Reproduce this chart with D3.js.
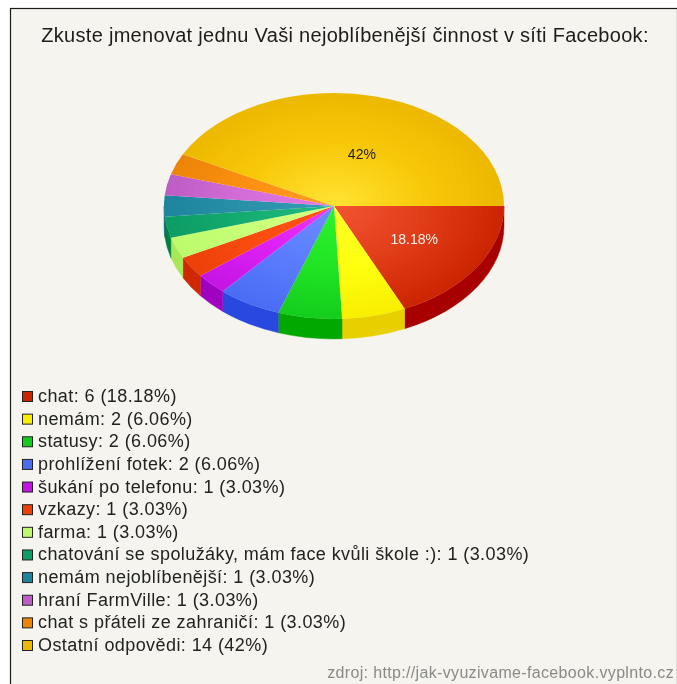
<!DOCTYPE html>
<html><head><meta charset="utf-8">
<script src="https://cdn.jsdelivr.net/npm/d3@7/dist/d3.min.js"></script>
<style>html,body{margin:0;padding:0;background:#fff}svg{display:block;filter:blur(0.45px)}</style>
</head><body><svg id="c" width="677" height="684"></svg>
<script>
const categories=["chat","nemám","statusy","prohlížení fotek","šukání po telefonu","vzkazy","farma","chatování se spolužáky, mám face kvůli škole :)","nemám nejoblíbenější","hraní FarmVille","chat s přáteli ze zahraničí","Ostatní odpovědi"];
const counts=[6,2,2,2,1,1,1,1,1,1,1,14];
const percents=["18.18%","6.06%","6.06%","6.06%","3.03%","3.03%","3.03%","3.03%","3.03%","3.03%","3.03%","42%"];
const topEdge=["#cc2400","#f8ee00","#14cc1c","#4a6cf4","#c414e4","#ec4008","#bcfa6c","#0c9c64","#1c849c","#bc5cc4","#ec8408","#ecb800"];
const topMid=["#e03c18","#ffff10","#20e424","#5a7cfc","#dc20f4","#fc4c10","#c8ff78","#14ac70","#2890a8","#d46cd8","#fc9010","#f8c808"];
const topCenter=["#f45434","#ffff28","#2cf42c","#6c8cff","#f034ff","#ff5418","#d4ff84","#24bc84","#349cb4","#e47ce4","#ff9c24","#ffe434"];
const sides=["#a80000","#e8d000","#00a800","#2848e0","#a000c0","#d02800","#a8e858","#008040","#106880","#9040a0","#c86000","#c89000"];
const labelIdx=[0,11];
const labelRadius=[93,80];
const labelShift=[2,9];
const titleText="Zkuste jmenovat jednu Vaši nejoblíbenější činnost v síti Facebook:";
const sourceText="zdroj: http://jak-vyuzivame-facebook.vyplnto.cz";

const svg=d3.select("#c");
const W=677,H=684,cx=334,cy=206,rx=170,ry=113,depth=20;
svg.append("rect").attr("width",W).attr("height",H).attr("fill","#fff");
svg.append("rect").attr("x",10.5).attr("y",8.5).attr("width",W-10).attr("height",H).attr("fill","#f5f4ee").attr("stroke","#1a1a1a").attr("stroke-width",1.2);
const defs=svg.append("defs");
categories.forEach((c,i)=>{
  const g=defs.append("radialGradient").attr("id","g"+i).attr("gradientUnits","userSpaceOnUse").attr("cx",0).attr("cy",0).attr("r",rx);
  g.append("stop").attr("offset","0").attr("stop-color",topCenter[i]);
  g.append("stop").attr("offset","0.55").attr("stop-color",topMid[i]);
  g.append("stop").attr("offset","1").attr("stop-color",topEdge[i]);
});
const pie=d3.pie().sort(null).startAngle(Math.PI/2).endAngle(Math.PI*2.5);
const arcs=pie(counts);
const sy=ry/rx;
const arc=d3.arc().innerRadius(0).outerRadius(rx);
const lower=a=>[Math.max(a.startAngle,Math.PI/2),Math.min(a.endAngle,Math.PI*1.5)];
const pt=t=>[cx+rx*Math.sin(t),cy-ry*Math.cos(t)];
const sideG=svg.append("g");
arcs.forEach((a,i)=>{
  const [s,e]=lower(a); if(e<=s)return;
  const [x0,y0]=pt(s),[x1,y1]=pt(e);
  const large=(e-s)>Math.PI?1:0;
  const d=`M${x0},${y0}A${rx},${ry} 0 ${large} 1 ${x1},${y1}L${x1},${y1+depth}A${rx},${ry} 0 ${large} 0 ${x0},${y0+depth}Z`;
  sideG.append("path").attr("d",d).attr("fill",sides[i]).attr("stroke",sides[i]).attr("stroke-width",.4);
});
const topG=svg.append("g").attr("transform",`translate(${cx},${cy}) scale(1,${sy})`);
topG.selectAll("path").data(arcs).join("path").attr("d",arc).attr("fill",(d,i)=>`url(#g${i})`);
const font="'Liberation Sans',Arial,sans-serif";
labelIdx.forEach((i,k)=>{
  const c=d3.arc().innerRadius(labelRadius[k]).outerRadius(labelRadius[k]).centroid(arcs[i]);
  svg.append("text").attr("x",cx+c[0]+labelShift[k]).attr("y",cy+c[1]*sy+5).attr("text-anchor","middle")
   .attr("font-family",font).attr("font-size",14).attr("fill",i===0?"#f6f0e8":"#222").text(percents[i]);
});
svg.append("text").attr("x",345).attr("y",42).attr("text-anchor","middle").attr("font-family",font).attr("font-size",20).attr("letter-spacing",0.3).attr("fill","#1c1c1c").text(titleText);
const ly=d3.scalePoint().domain(categories).range([396.5,645.5]);
const lg=svg.append("g").selectAll("g").data(categories).join("g").attr("transform",d=>`translate(0,${ly(d)})`);
lg.append("rect").attr("x",22.5).attr("y",-5).attr("width",10).attr("height",10).attr("fill",(d,i)=>topEdge[i]).attr("stroke","#222").attr("stroke-width",1);
lg.append("text").attr("x",38).attr("y",5.5).attr("font-family",font).attr("font-size",18).attr("letter-spacing",0.42).attr("fill","#222").text((d,i)=>`${d}: ${counts[i]} (${percents[i]})`);
svg.append("text").attr("x",674).attr("y",678).attr("text-anchor","end").attr("font-family",font).attr("font-size",16).attr("letter-spacing",0.34).attr("fill","#8a8a86").text(sourceText);
</script></body></html>
